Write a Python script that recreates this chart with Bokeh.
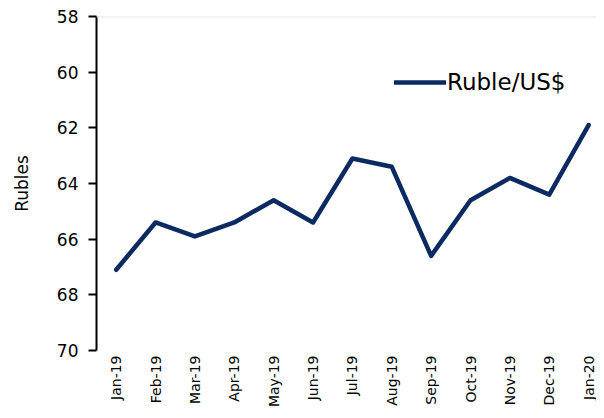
import math
from bokeh.plotting import figure
from bokeh.models import Range1d, FixedTicker, Span, Legend, LegendItem
from bokeh.embed import file_html
from bokeh.resources import INLINE

months = ["Jan-19", "Feb-19", "Mar-19", "Apr-19", "May-19", "Jun-19", "Jul-19",
          "Aug-19", "Sep-19", "Oct-19", "Nov-19", "Dec-19", "Jan-20"]
rub_per_usd = [67.1, 65.4, 65.9, 65.4, 64.6, 65.4, 63.1, 63.4, 66.6, 64.6, 63.8, 64.4, 61.9]
y_ticks = [58, 60, 62, 64, 66, 68, 70]
series_name = "Ruble/US$"
y_title = "Rubles"

FONT = "DejaVu Sans"
NAVY = "#0c2a62"

x = list(range(len(months)))

p = figure(width=596, height=410, output_backend="svg", toolbar_location=None,
           x_range=Range1d(-0.5, 12.2), y_range=Range1d(70, 58),
           min_border_top=16, min_border_right=0, min_border_left=96,
           min_border_bottom=59)
p.outline_line_color = None
p.xgrid.visible = False
p.ygrid.visible = False
p.background_fill_color = "white"
p.border_fill_color = "white"

p.add_layout(Span(location=58, dimension="width", line_color="#e4e4e4", line_width=2))

r = p.line(x, rub_per_usd, line_color=NAVY, line_width=4.5, line_join="round", line_cap="round")

# y axis
ya = p.yaxis[0]
ya.ticker = FixedTicker(ticks=y_ticks)
ya.axis_line_color = "black"
ya.axis_line_width = 2
ya.major_tick_line_color = "black"
ya.major_tick_line_width = 2
ya.major_tick_out = 8
ya.major_tick_in = 0
ya.minor_tick_line_color = None
ya.major_label_standoff = 10
ya.major_label_text_font = FONT
ya.major_label_text_font_size = "17px"
ya.major_label_text_color = "black"
ya.axis_label = y_title
ya.axis_label_text_font = FONT
ya.axis_label_text_font_size = "17px"
ya.axis_label_text_font_style = "normal"
ya.axis_label_text_color = "black"
ya.axis_label_standoff = 22

# x axis
xa = p.xaxis[0]
xa.ticker = FixedTicker(ticks=x)
xa.major_label_overrides = {i: m for i, m in zip(x, months)}
xa.major_label_orientation = math.pi / 2
xa.axis_line_color = None
xa.major_tick_line_color = None
xa.minor_tick_line_color = None
xa.major_tick_out = 0
xa.major_tick_in = 0
xa.major_label_standoff = 5
xa.major_label_text_font = FONT
xa.major_label_text_font_size = "14px"
xa.major_label_text_color = "black"

legend = Legend(items=[LegendItem(label=series_name, renderers=[r])],
                location=(298, 255), border_line_color=None,
                background_fill_alpha=0, padding=0, margin=0,
                glyph_width=52, glyph_height=26, label_height=26, label_standoff=1,
                label_text_font=FONT, label_text_font_size="23px",
                label_text_color="black")
p.add_layout(legend)

open("out.html", "w").write(file_html(p, INLINE))
